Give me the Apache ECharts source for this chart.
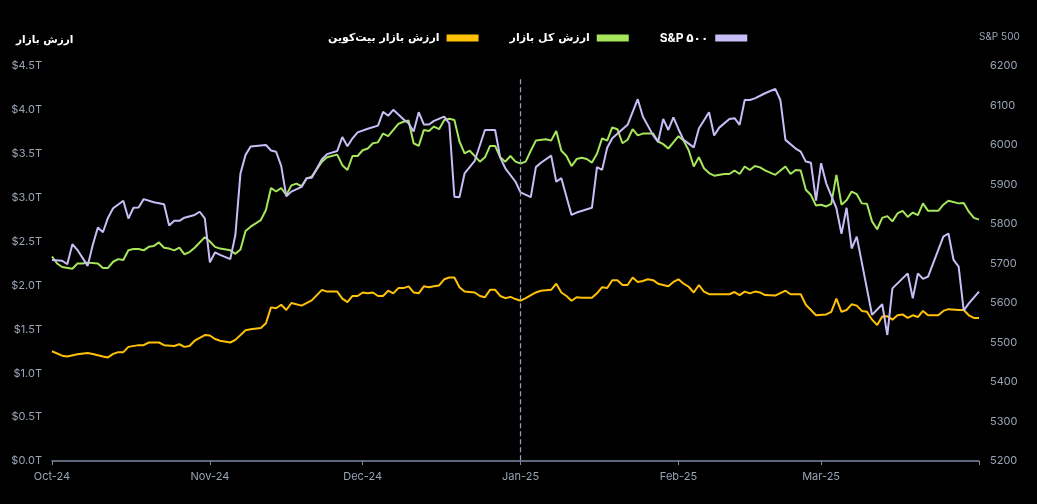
<!DOCTYPE html>
<html>
<head>
<meta charset="utf-8">
<script src="https://cdn.jsdelivr.net/npm/echarts@6/dist/echarts.min.js"></script>
<style>
html,body{margin:0;padding:0;background:#000;}
#chart{width:1037px;height:504px;}
</style>
</head>
<body>
<div id="chart"></div>
<script>
// Day offsets are days since 2024-10-01
const seriesNames = ['ارزش بازار بیت\u200cکوین', 'ارزش کل بازار', 'S&P ۵۰۰'];
const leftAxisName = 'ارزش بازار';
const rightAxisName = 'S&P 500';
const monthNames = ['Jan','Feb','Mar','Apr','May','Jun','Jul','Aug','Sep','Oct','Nov','Dec'];
const labelledMonths = [9, 10, 11, 0, 1, 2]; // Oct .. Mar

const btcDays = [0,2,3,5,7,8,10,11,12,13,
14,15,17,18,19,21,22,24,25,26,
27,28,30,31,32,33,35,36,38,39,
41,42,43,44,45,46,47,49,51,53,
54,56,57,58,59,60,61,62,63,64,
65,66,67,68,69,70,71,72,73,74,
75,76,77,78,79,80,81,82,83,84,
85,86,87,88,89,90,91,92,93,95,
96,98,99,100,101,102,103,104,106,107,
108,109,110,111,112,113,114,115,116,117,
118,119,121,122,123,124,125,126,127,128,
129,131,133,134,135,136,137,138,139,140,
142,144,145,147,148,150,152,153,154,155,
156,157,158,159,160,161,162,163,164,165,
166,167,168,169,170,171,172,174,175,176,
178,179,180,181,182];
const btcValues = [1.25,1.20,1.19,1.215,1.23,1.22,1.19,1.18,1.22,1.24,
1.24,1.30,1.32,1.32,1.35,1.35,1.32,1.31,1.33,1.30,
1.31,1.37,1.435,1.43,1.39,1.37,1.35,1.38,1.49,1.50,
1.515,1.57,1.75,1.74,1.78,1.72,1.80,1.77,1.83,1.95,
1.93,1.93,1.85,1.81,1.88,1.88,1.92,1.91,1.92,1.88,
1.88,1.94,1.91,1.97,1.97,1.99,1.92,1.91,1.99,1.98,
1.99,2.00,2.07,2.09,2.09,1.98,1.93,1.925,1.92,1.88,
1.865,1.95,1.95,1.88,1.855,1.87,1.845,1.826,1.855,1.92,
1.94,1.95,2.02,1.92,1.88,1.826,1.865,1.86,1.86,1.91,
1.98,1.97,2.06,2.06,2.005,2.005,2.09,2.04,2.05,2.07,
2.06,2.02,1.99,2.04,2.07,2.02,1.985,1.92,2.005,1.93,
1.90,1.90,1.90,1.925,1.89,1.93,1.91,1.93,1.92,1.89,
1.885,1.94,1.90,1.90,1.78,1.66,1.67,1.70,1.85,1.70,
1.72,1.785,1.77,1.71,1.70,1.61,1.55,1.645,1.65,1.61,
1.66,1.67,1.63,1.66,1.64,1.71,1.66,1.66,1.71,1.73,
1.72,1.72,1.66,1.63,1.63];

const totalDays = [0,1,2,4,5,6,7,9,10,11,
12,13,14,15,16,17,18,19,20,21,
22,23,24,25,26,27,28,29,30,31,
32,33,35,36,37,38,39,41,42,43,
44,45,46,47,48,49,50,51,53,54,
56,57,58,59,60,61,62,63,64,65,
66,68,69,70,71,72,73,74,75,76,
77,78,79,80,81,82,83,84,85,86,
87,88,89,90,91,92,93,94,95,97,
98,99,100,101,102,103,104,105,106,107,
108,109,110,111,112,113,114,115,116,118,
119,120,121,122,123,124,125,126,127,128,
129,130,132,133,134,135,136,137,138,139,
140,142,144,145,146,147,148,149,150,151,
152,153,154,155,156,157,158,159,160,161,
162,163,164,165,166,167,168,169,170,171,
172,174,175,176,178,179,180,181,182];
const totalValues = [2.33,2.25,2.21,2.19,2.25,2.25,2.26,2.25,2.20,2.20,
2.27,2.30,2.29,2.40,2.415,2.415,2.40,2.44,2.45,2.49,
2.43,2.42,2.40,2.43,2.355,2.38,2.43,2.49,2.55,2.50,
2.44,2.42,2.40,2.36,2.41,2.62,2.67,2.745,2.86,3.11,
3.07,3.11,3.03,3.14,3.16,3.13,3.22,3.24,3.41,3.46,
3.49,3.37,3.315,3.475,3.475,3.54,3.56,3.62,3.63,3.73,
3.70,3.84,3.865,3.88,3.62,3.59,3.77,3.76,3.81,3.78,
3.885,3.90,3.885,3.64,3.505,3.535,3.475,3.41,3.46,3.59,
3.59,3.46,3.41,3.475,3.41,3.39,3.41,3.535,3.65,3.665,
3.65,3.76,3.535,3.475,3.36,3.44,3.455,3.44,3.40,3.50,
3.675,3.65,3.80,3.78,3.62,3.66,3.78,3.71,3.73,3.73,
3.64,3.61,3.56,3.63,3.70,3.65,3.54,3.355,3.46,3.335,
3.28,3.25,3.27,3.27,3.31,3.27,3.355,3.315,3.36,3.345,
3.31,3.26,3.355,3.27,3.315,3.31,3.09,3.03,2.91,2.92,
2.90,2.93,3.26,2.92,2.97,3.07,3.04,2.935,2.93,2.73,
2.64,2.77,2.79,2.73,2.82,2.85,2.78,2.83,2.80,2.935,
2.85,2.85,2.92,2.965,2.935,2.94,2.84,2.77,2.75];

const spxDays = [0,2,3,4,5,7,8,9,10,11,
12,14,15,16,17,18,20,22,23,24,
25,26,28,29,30,31,32,33,35,36,
37,38,39,42,43,44,45,46,47,49,
50,51,53,54,56,57,58,59,60,62,
64,65,66,67,69,70,71,72,73,74,
75,77,78,79,80,81,82,83,85,87,
88,89,91,92,94,95,96,98,99,100,
102,103,106,107,108,109,110,113,115,116,
118,119,120,121,122,123,124,126,127,129,
130,131,133,134,135,136,137,138,140,142,
143,144,146,147,148,149,150,151,152,154,
155,156,157,158,161,163,164,165,168,169,
170,171,172,175,176,177,178,179,180,182];
const spxValues = [5709,5707,5698,5749,5734,5694,5747,5791,5779,5816,
5840,5859,5814,5841,5842,5863,5855,5850,5796,5808,
5808,5816,5823,5831,5814,5703,5728,5722,5711,5772,
5928,5975,5996,6000,5986,5983,5947,5870,5882,5894,
5916,5917,5964,5977,5985,6020,5997,6017,6032,6041,
6049,6084,6074,6089,6065,6055,6034,6083,6052,6052,
6061,6072,6055,5869,5868,5928,5944,5960,6038,6038,
5968,5941,5907,5880,5868,5944,5955,5973,5907,5916,
5823,5829,5841,5944,5937,5993,6017,6051,6116,6072,
6025,6008,6066,6038,6070,6040,6013,5994,6042,6083,
6024,6044,6066,6068,6051,6114,6114,6118,6131,6142,
6114,6013,5991,5983,5958,5955,5859,5954,5903,5840,
5775,5841,5738,5768,5570,5597,5519,5637,5675,5612,
5675,5661,5667,5768,5776,5709,5692,5581,5599,5629];

const leftMin = 0, leftMax = 4.5, leftStep = 0.5;
const rightMin = 5200, rightMax = 6200, rightStep = 100;
const markDay = 92;        // 2025-01-01
const markTop = 4.35;      // dashed marker runs from here down to 0

function dayToTime(d) { return new Date(2024, 9, 1 + d).getTime(); }
function pairs(days, vals) { return days.map((d, i) => [dayToTime(d), vals[i]]); }

const labelColor = '#9aa4b4';
const axisColor = '#7e8ba0';
const latinFont = 'Inter, "DejaVu Sans", sans-serif';
const arabicFont = '"DejaVu Sans", sans-serif';

const chart = echarts.init(document.getElementById('chart'), null, {renderer: 'canvas'});
const markTime = dayToTime(markDay);

chart.setOption({
  backgroundColor: '#000000',
  animation: false,
  title: {
    text: leftAxisName,
    left: 11, top: 30,
    textStyle: {color: '#ffffff', fontSize: 10.5, fontWeight: 'bold', fontFamily: arabicFont}
  },
  legend: {
    data: [
      {name: seriesNames[0], textStyle: {fontSize: 11}},
      {name: seriesNames[1], textStyle: {fontSize: 11}},
      {name: seriesNames[2], textStyle: {fontSize: 12, fontFamily: latinFont}}
    ],
    left: 323, top: 27,
    align: 'right',
    icon: 'rect',
    itemWidth: 32, itemHeight: 7,
    itemGap: 31,
    textStyle: {color: '#ffffff', fontSize: 11, fontWeight: 'bold', fontFamily: arabicFont, padding: [0, 2, 0, 0]}
  },
  grid: {left: 52, right: 58, top: 66, bottom: 43, containLabel: false},
  xAxis: {
    type: 'time',
    min: dayToTime(0),
    max: dayToTime(182),
    splitNumber: 6,
    minInterval: 28 * 86400000,
    maxInterval: 31 * 86400000,
    axisLine: {show: true, lineStyle: {color: axisColor, width: 1.5}},
    axisTick: {show: true, length: 4, lineStyle: {color: axisColor}},
    splitLine: {show: false},
    axisLabel: {
      color: labelColor, fontSize: 11, fontFamily: latinFont, margin: 10,
      formatter: function (v) {
        const d = new Date(v);
        if (labelledMonths.indexOf(d.getMonth()) < 0) return '';
        return monthNames[d.getMonth()] + '-' + String(d.getFullYear()).slice(2);
      }
    }
  },
  yAxis: [
    {
      type: 'value', position: 'left',
      min: leftMin, max: leftMax, interval: leftStep,
      axisLine: {show: false}, axisTick: {show: false}, splitLine: {show: false},
      axisLabel: {color: labelColor, fontSize: 11, fontFamily: latinFont, margin: 10,
        formatter: v => '$' + v.toFixed(1) + 'T'}
    },
    {
      type: 'value', position: 'right',
      min: rightMin, max: rightMax, interval: rightStep,
      name: rightAxisName, nameLocation: 'end', nameGap: 24,
      nameTextStyle: {color: labelColor, fontSize: 10, fontFamily: latinFont, align: 'left'},
      axisLine: {show: false}, axisTick: {show: false}, splitLine: {show: false},
      axisLabel: {color: labelColor, fontSize: 11, fontFamily: latinFont, margin: 11,
        formatter: v => String(v)}
    }
  ],
  series: [
    {
      name: seriesNames[1], type: 'line', yAxisIndex: 0,
      data: pairs(totalDays, totalValues),
      showSymbol: false, symbol: 'none',
      lineStyle: {color: '#a6e65c', width: 2},
      itemStyle: {color: '#a6e65c'}
    },
    {
      name: seriesNames[0], type: 'line', yAxisIndex: 0,
      data: pairs(btcDays, btcValues),
      showSymbol: false, symbol: 'none',
      lineStyle: {color: '#ffc107', width: 2},
      itemStyle: {color: '#ffc107'},
      markLine: {
        silent: true, symbol: 'none', label: {show: false},
        lineStyle: {color: '#8ea8c4', width: 1.2, type: [5, 3]},
        data: [[{coord: [markTime, markTop]}, {coord: [markTime, leftMin]}]]
      }
    },
    {
      name: seriesNames[2], type: 'line', yAxisIndex: 1,
      data: pairs(spxDays, spxValues),
      showSymbol: false, symbol: 'none',
      lineStyle: {color: '#c8bdf7', width: 2},
      itemStyle: {color: '#c8bdf7'}
    }
  ]
});
</script>
</body>
</html>
